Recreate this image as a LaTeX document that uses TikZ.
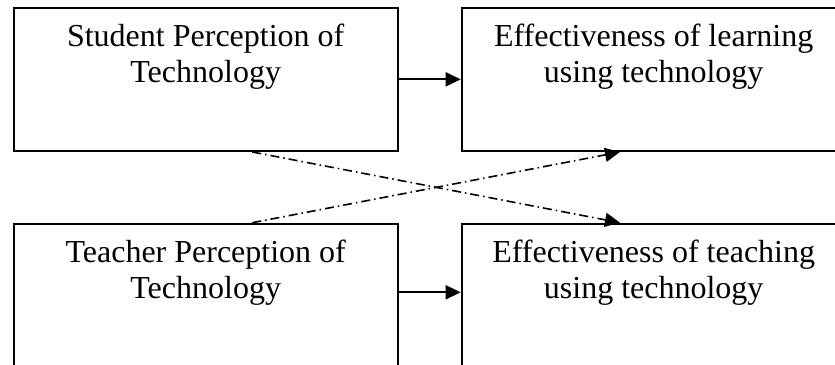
\documentclass[tikz,border=0pt]{standalone}
\usepackage{fontspec}
\setmainfont{Liberation Serif}
\usetikzlibrary{arrows.meta,calc}
\begin{document}
\begin{tikzpicture}[x=1pt,y=-1pt,
  box/.style={draw=black,line width=2pt,minimum width=384pt,minimum height=143.3pt,inner sep=0pt,anchor=north west},
  lbl/.style={anchor=base,align=center,inner sep=0pt,font=\fontsize{32}{36}\selectfont},
  solidarrow/.style={line width=1.8pt,-{Triangle[length=15pt,width=14pt]}},
  dasharrow/.style={line width=1.6pt,dash pattern=on 9pt off 4pt on 1.5pt off 4pt,-{Triangle[length=15pt,width=14pt]}}]
\clip (0,0) rectangle (835,364);
\node[box] (TL) at (12.7,6.7) {};
\node[box] (TR) at (460.7,6.7) {};
\node[box] (BL) at (12.7,222.7) {};
\node[box] (BR) at (460.7,222.7) {};
\node[lbl] (tTL) at ($(TL.north)+(0,75.5)$) {Student Perception of\\Technology};
\node[lbl] (tTR) at ($(TR.north)+(0,75.5)$) {Effectiveness of learning\\using technology};
\node[lbl] (tBL) at ($(BL.north)+(0,76)$) {Teacher Perception of\\Technology};
\node[lbl] (tBR) at ($(BR.north)+(0,76)$) {Effectiveness of teaching\\using technology};
\draw[solidarrow] (TL.east) -- (TR.west);
\draw[solidarrow] ($(BL.north east)+(0,69.6)$) coordinate (b1) -- (b1 -| BR.west);
\coordinate (s1) at ($(TL.south west)+(239.6,0)$);
\coordinate (s2) at ($(BL.north west)+(239.6,0)$);
\coordinate (e1) at ($(BR.north west)+(159.3,0)$);
\coordinate (e2) at ($(TR.south west)+(159.3,0)$);
\draw[dasharrow] (s1) -- (e1);
\draw[dasharrow] (s2) -- (e2);
\end{tikzpicture}
\end{document}
